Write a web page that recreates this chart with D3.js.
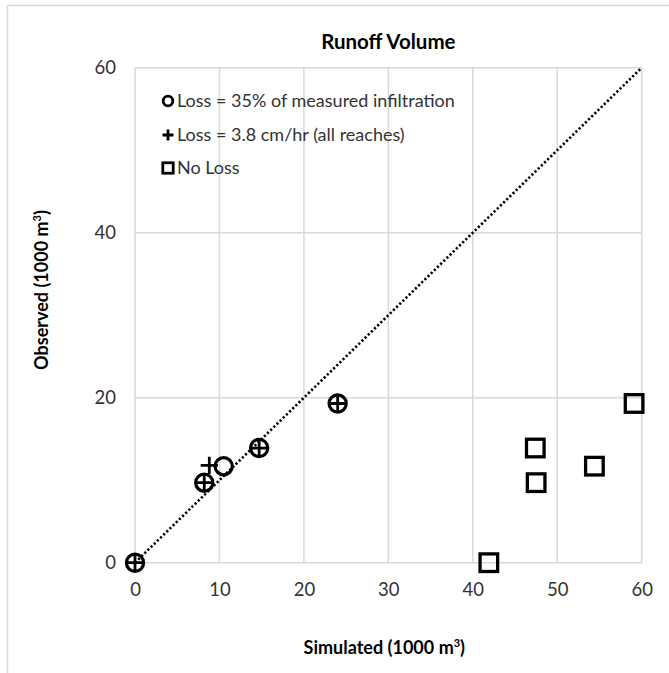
<!DOCTYPE html>
<html>
<head>
<meta charset="utf-8">
<script src="https://cdn.jsdelivr.net/npm/d3@7"></script>
<style>
  html, body { margin: 0; padding: 0; background: #fff; }
  svg { display: block; font-family: Lato, "Noto Sans", sans-serif; }
</style>
</head>
<body>
<svg id="chart" width="669" height="673"></svg>
<script>
// ---- data ----
const title = "Runoff Volume";
const xTicks = [0, 10, 20, 30, 40, 50, 60];
const yTicks = [0, 20, 40, 60];
const seriesNames = ["Loss = 35% of measured infiltration", "Loss = 3.8 cm/hr (all reaches)", "No Loss"];
const simLoss35 = [0, 8.2, 10.5, 14.7, 24.0];
const obsLoss35 = [0, 9.7, 11.7, 13.9, 19.3];
const simLossRate = [0, 8.2, 8.8, 14.7, 24.0];
const obsLossRate = [0, 9.7, 11.8, 13.9, 19.3];
const simNoLoss = [41.9, 47.5, 54.4, 47.4, 59.1];
const obsNoLoss = [0, 9.7, 11.7, 13.9, 19.3];
const oneToOne = [0, 60];

// ---- layout ----
const svg = d3.select("#chart");
const L = 135, R = 641.7, T = 67.7, B = 562.7;
const x = d3.scaleLinear().domain([0, 60]).range([L, R]);
const y = d3.scaleLinear().domain([0, 60]).range([B, T]);
const grid = "#d9d9d9";
const tickColor = "#333";

// outer frame (partially visible)
svg.append("path").attr("d", "M7.5,673 V5.5 H669").attr("fill", "none")
  .attr("stroke", "#d9d9d9").attr("stroke-width", 1.5);

// gridlines
svg.append("g").selectAll("line").data(xTicks).join("line")
  .attr("x1", d => x(d)).attr("x2", d => x(d)).attr("y1", T).attr("y2", B)
  .attr("stroke", grid).attr("stroke-width", 1.5);
svg.append("g").selectAll("line").data(yTicks).join("line")
  .attr("y1", d => y(d)).attr("y2", d => y(d)).attr("x1", L).attr("x2", R)
  .attr("stroke", grid).attr("stroke-width", 1.5);

// axes tick labels
const xAxis = d3.axisBottom(x).tickValues(xTicks).tickSize(0).tickPadding(20);
const gx = svg.append("g").attr("transform", `translate(0,${B})`).call(xAxis);
gx.select(".domain").remove();
gx.selectAll("text").attr("font-size", 18.5).attr("fill", tickColor).attr("font-family", "Lato, sans-serif");

const yAxis = d3.axisLeft(y).tickValues(yTicks).tickSize(0).tickPadding(19);
const gy = svg.append("g").attr("transform", `translate(${L},0)`).call(yAxis);
gy.select(".domain").remove();
gy.selectAll("text").attr("font-size", 18.5).attr("fill", tickColor).attr("font-family", "Lato, sans-serif");

// 1:1 dotted line
svg.append("line")
  .attr("x1", x(oneToOne[0])).attr("y1", y(oneToOne[0]))
  .attr("x2", x(oneToOne[1])).attr("y2", y(oneToOne[1]))
  .attr("stroke", "#000").attr("stroke-width", 2.6)
  .attr("stroke-dasharray", "2.2,2.2");

// markers
const sq = d3.range(simNoLoss.length).map(i => [simNoLoss[i], obsNoLoss[i]]);
svg.append("g").selectAll("rect").data(sq).join("rect")
  .attr("x", d => x(d[0]) - 8.8).attr("y", d => y(d[1]) - 8.8)
  .attr("width", 17.6).attr("height", 17.6)
  .attr("fill", "none").attr("stroke", "#000").attr("stroke-width", 3.3);

const circ = d3.range(simLoss35.length).map(i => [simLoss35[i], obsLoss35[i]]);
svg.append("g").selectAll("circle").data(circ).join("circle")
  .attr("cx", d => x(d[0])).attr("cy", d => y(d[1])).attr("r", 8.6)
  .attr("fill", "none").attr("stroke", "#000").attr("stroke-width", 3.2);

const plus = d3.range(simLossRate.length).map(i => [simLossRate[i], obsLossRate[i]]);
const plusPath = "M-8.6,0H8.6M0,-8.6V8.6";
svg.append("g").selectAll("path").data(plus).join("path")
  .attr("transform", d => `translate(${x(d[0])},${y(d[1])})`)
  .attr("d", plusPath)
  .attr("fill", "none").attr("stroke", "#000").attr("stroke-width", 2.8);

// title
svg.append("text").attr("x", (L + R) / 2).attr("y", 49)
  .attr("text-anchor", "middle").attr("font-size", 20.5).attr("font-weight", "bold")
  .attr("fill", "#000").text(title);

// axis titles
const xt = svg.append("text").attr("x", (L + R) / 2 - 4).attr("y", 654)
  .attr("text-anchor", "middle").attr("font-size", 18).attr("font-weight", "bold").attr("fill", "#000");
xt.append("tspan").text("Simulated (1000 m");
xt.append("tspan").attr("font-size", 11).attr("dy", -7).text("3");
xt.append("tspan").attr("dy", 7).text(")");

const yt = svg.append("text").attr("transform", "translate(48,290) rotate(-90)")
  .attr("text-anchor", "middle").attr("font-size", 18).attr("font-weight", "bold").attr("fill", "#000");
yt.append("tspan").text("Observed (1000 m");
yt.append("tspan").attr("font-size", 11).attr("dy", -7).text("3");
yt.append("tspan").attr("dy", 7).text(")");

// legend
const legY = [101, 135, 168];
const lg = svg.append("g");
lg.append("circle").attr("cx", 168).attr("cy", legY[0]).attr("r", 4.8)
  .attr("fill", "none").attr("stroke", "#000").attr("stroke-width", 2.8);
lg.append("path").attr("transform", `translate(168,${legY[1]})`).attr("d", "M-5.5,0H5.5M0,-5.5V5.5")
  .attr("stroke", "#000").attr("stroke-width", 2.8);
lg.append("rect").attr("x", 162.8).attr("y", legY[2] - 5.2).attr("width", 10.4).attr("height", 10.4)
  .attr("fill", "none").attr("stroke", "#000").attr("stroke-width", 2.8);
lg.selectAll("text").data(seriesNames).join("text")
  .attr("x", 177).attr("y", (d, i) => legY[i]).attr("dy", "0.36em")
  .attr("font-size", 18).attr("fill", tickColor).text(d => d);
</script>
</body>
</html>
